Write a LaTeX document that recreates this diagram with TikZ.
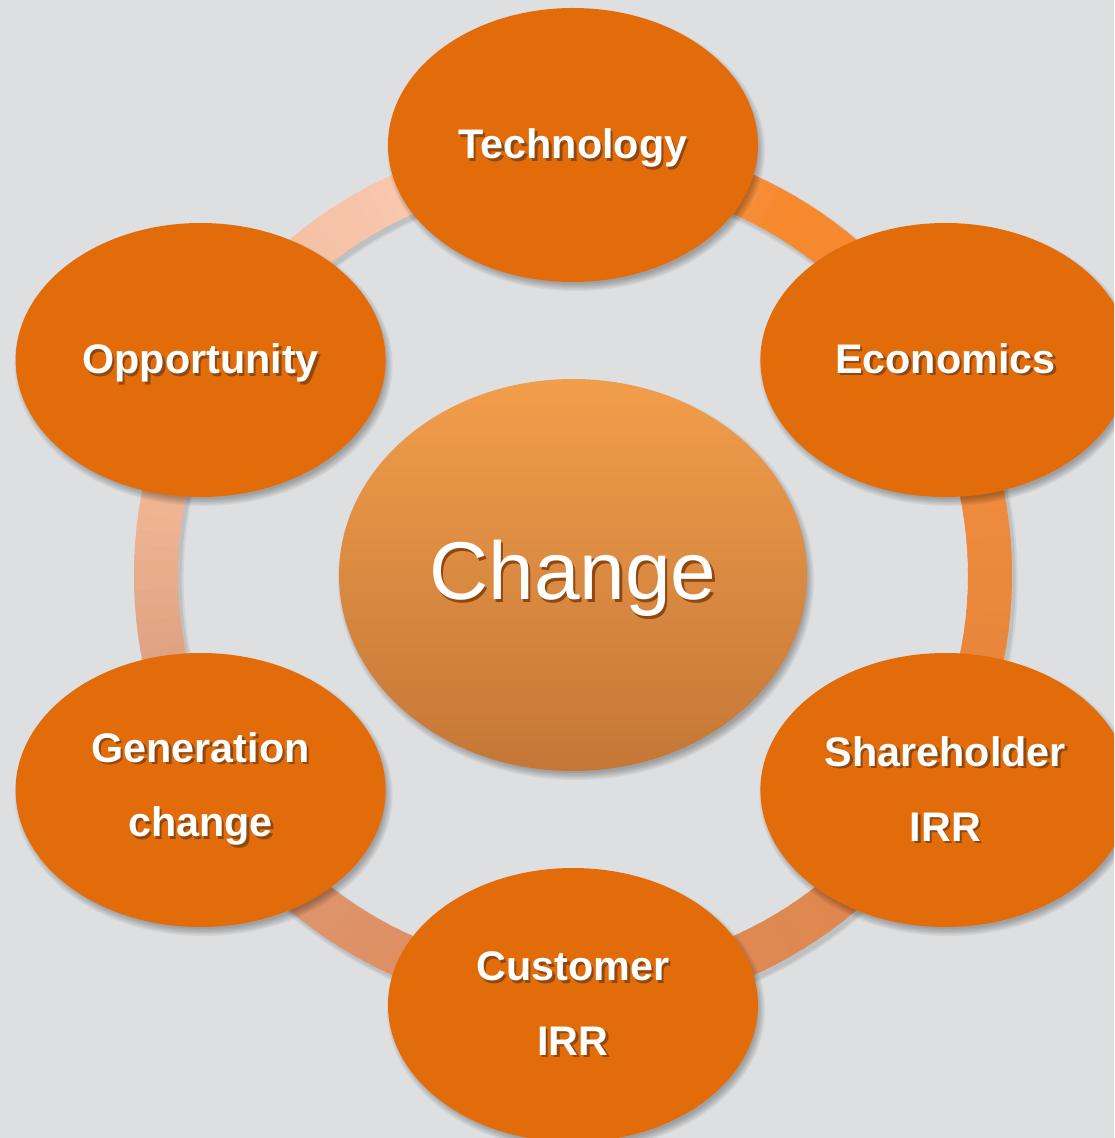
\documentclass[tikz,border=0pt]{standalone}
\usepackage{fontspec}
\setmainfont{Liberation Sans}
\usetikzlibrary{shapes.geometric,calc}

\definecolor{bg}{HTML}{DEDFE1}
\definecolor{petal}{HTML}{E36C0A}
\definecolor{hubtop}{HTML}{F19D4B}
\definecolor{hubbot}{HTML}{C47736}
\definecolor{txtshadow}{HTML}{8E4810}
% ring colours, clockwise from upper right
\definecolor{rA}{HTML}{F7882C}
\definecolor{rB}{HTML}{F08C3E}
\definecolor{rC}{HTML}{E6853A}
\definecolor{rD}{HTML}{DE8852}
\definecolor{rE}{HTML}{DE9166}
\definecolor{rF}{HTML}{E0A383}
\definecolor{rG}{HTML}{F0B694}
\definecolor{rH}{HTML}{F4C0A5}
\definecolor{rI}{HTML}{FAC9AF}

% white label with a dark offset copy behind it
\newcommand\shadowed[1]{\makebox[0pt][l]{\raisebox{-1.8pt}{\hspace{1.8pt}\textcolor{txtshadow}{#1}}}#1}
% extra headroom so single-line labels with descenders sit a little lower
\newcommand\headroom{\rule{0pt}{29pt}}
% soft drop shadow under an ellipse centred at coordinate #1 with radii #2,#3
\newcommand\softshadow[3]{%
  \foreach \k in {0,...,5}{%
    \pgfmathsetmacro\shrx{#2-3+1.4*\k}%
    \pgfmathsetmacro\shry{#3-3+1.4*\k}%
    \fill[black, opacity=0.05] ($#1+(3,-5)$) ellipse [x radius=\shrx, y radius=\shry];
  }%
}

\tikzset{
  petalnode/.style={ellipse, fill=petal, minimum width=277.5pt, minimum height=205.5pt,
    inner sep=0pt, text=white, align=center,
    font=\bfseries\fontsize{31}{56}\selectfont},
  hubnode/.style={ellipse, top color=hubtop, bottom color=hubbot, draw=none,
    minimum width=351pt, minimum height=294pt, inner sep=0pt, text=white,
    font=\fontsize{61.5}{70}\selectfont},
}

\begin{document}
\begin{tikzpicture}[x=0.75pt, y=0.75pt]
  \useasboundingbox (-573,-563) rectangle (541,575);
  \clip (-573,-563) rectangle (541,575);
  \fill[bg] (-573,-563) rectangle (541,575);

  % shadow of the ring
  \draw[black, opacity=0.06, line width=37pt] (3,-4) circle [radius=417];
  \draw[black, opacity=0.08, line width=34pt] (3,-4) circle [radius=417];

  % ring, built from short arcs with blended colours
  \foreach \a/\b/\ca/\cb in {60/15/rA/rB, 15/-15/rB/rC, -15/-60/rC/rD, -60/-120/rD/rE,
      -120/-170/rE/rF, -170/-190/rF/rG, -190/-230/rG/rH, -230/-250/rH/rI, -250/-300/rI/rA}{
    \pgfmathtruncatemacro\n{abs(\a-\b)/2}
    \foreach \i in {1,...,\n}{
      \pgfmathsetmacro\p{100*(\i-0.5)/\n}
      \pgfmathsetmacro\s{\a+(\b-\a)*(\i-1)/\n}
      \pgfmathsetmacro\e{\a+(\b-\a)*\i/\n-0.6}
      \colorlet{segcol}{\cb!\p!\ca}
      \draw[segcol, line width=33pt] (\s:417) arc [start angle=\s, end angle=\e, radius=417];
    }
  }

  % shadows of the ellipses
  \softshadow{(0,0)}{234}{196}
  \foreach \ang in {90,30,-30,-90,-150,150}{
    \softshadow{(\ang:430)}{185}{137}
  }

  % centre
  \node[hubnode] (hub) at (0,0) {\rule{0pt}{52pt}\shadowed{Change}};

  % surrounding ellipses
  \node[petalnode] (tech) at (90:430) {\headroom\shadowed{Technology}};
  \node[petalnode] (econ) at (30:430) {\shadowed{Economics}};
  \node[petalnode] (share) at (-30:430) {\shadowed{Shareholder}\\\shadowed{IRR}};
  \node[petalnode] (cust) at (-90:430) {\shadowed{Customer}\\\shadowed{IRR}};
  \node[petalnode] (gen) at (-150:430) {\shadowed{Generation}\\\shadowed{change}};
  \node[petalnode] (opp) at (150:430) {\headroom\shadowed{Opportunity}};
\end{tikzpicture}
\end{document}
